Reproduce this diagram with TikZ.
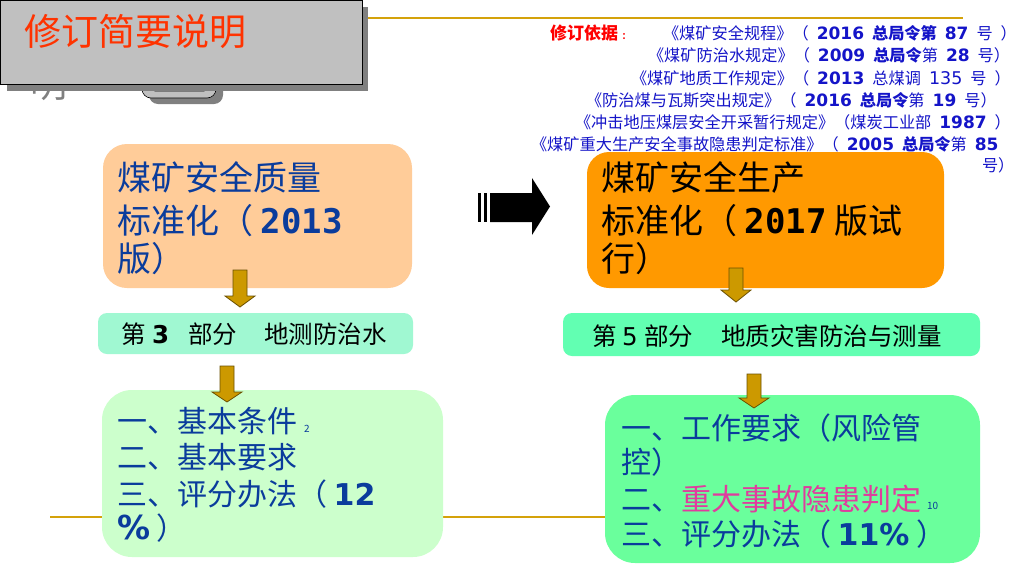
\documentclass[tikz,border=0pt]{standalone}
\usepackage{fontspec}
\setmainfont{Noto Sans CJK SC}
\newfontfamily\reffont[WordSpace=2.2]{Noto Sans CJK SC}
\newfontfamily\dvs{DejaVu Sans}
\newfontfamily\dvm{DejaVu Sans Mono}
\definecolor{gold}{HTML}{CC9900}
\definecolor{goldline}{HTML}{D4A20A}
\definecolor{golddark}{HTML}{6B5000}
\definecolor{titlered}{HTML}{FF3300}
\definecolor{boxgrey}{HTML}{C0C0C0}
\definecolor{shadowgrey}{HTML}{808080}
\definecolor{peach}{HTML}{FFCC99}
\definecolor{orangebox}{HTML}{FF9900}
\definecolor{barone}{HTML}{A0F8D2}
\definecolor{bartwo}{HTML}{62FFB2}
\definecolor{lgreen}{HTML}{CCFFCC}
\definecolor{mgreen}{HTML}{6AFF9C}
\definecolor{dblue}{HTML}{0A3C9C}
\definecolor{refblue}{HTML}{1414C8}
\definecolor{magentatxt}{HTML}{E03C9E}
\newcommand\refnum[1]{{\fontsize{17}{18}\selectfont\dvs\bfseries #1}}
\newcommand\gdarrow[4]{% cx, top, base, tip
  \filldraw[fill=gold, draw=golddark, line width=0.8pt]
   (#1-7,#2) -- (#1+7,#2) -- (#1+7,#3) -- (#1+15,#3) -- (#1,#4)
   -- (#1-15,#3) -- (#1-7,#3) -- cycle;}
\tikzset{
  big/.style={anchor=base west, font=\fontsize{34}{40}\selectfont},
  mid/.style={anchor=base west, font=\fontsize{30}{36}\selectfont},
  bartxt/.style={anchor=base west, font=\fontsize{24.5}{28}\selectfont},
  reftxt/.style={anchor=base west, text=refblue, font=\reffont\fontsize{16.2}{18}\selectfont},
  tiny/.style={anchor=base west, font=\fontsize{10}{12}\selectfont}
}
\begin{document}
\begin{tikzpicture}[x=1pt,y=-1pt, every node/.style={inner sep=0pt, outer sep=0pt}]
\useasboundingbox (0,0) rectangle (1024,576);
\fill[white] (0,0) rectangle (1024,576);

% gold lines
\draw[goldline, line width=1.2pt] (340,18) -- (963,18);
\draw[goldline, line width=1.2pt] (50,517) -- (960,517);

% partially hidden grey glyph
\node[anchor=base west, text=shadowgrey, font=\fontsize{37}{40}\selectfont] (ghost) at (30,97) {明};

% title tab
\fill[shadowgrey, rounded corners=9pt] (149,70) rectangle (223,104);
\filldraw[fill=boxgrey, draw=black, line width=0.6pt, rounded corners=9pt] (142,66) rectangle (216,98);
\draw[black, line width=0.6pt, rounded corners=4pt] (151,70) rectangle (208,91);
% title box
\fill[shadowgrey] (7,7) rectangle (368,91);
\filldraw[fill=boxgrey, draw=black, line width=0.8pt] (0,0) rectangle (362,84);
\node[anchor=base west, text=titlered, font=\fontsize{37}{40}\selectfont] (title) at (24,45) {修订简要说明};

% references
\node[anchor=base west, text=red, font=\fontsize{17}{18}\selectfont\bfseries] (reflabel) at (550,39) {修订依据 {\fontsize{9}{10}\selectfont ：}};
\node[reftxt] (r1) at (663,39) {《煤矿安全规程》（ \refnum{2016} {\bfseries 总局令第} \refnum{87} 号 ）};
\node[reftxt] (r2) at (648,61.5) {《煤矿防治水规定》（ \refnum{2009} {\bfseries 总局令}第 \refnum{28} 号）};
\node[reftxt] (r3) at (631,84) {《煤矿地质工作规定》（ \refnum{2013} 总煤调 {\fontsize{17.5}{18}\selectfont\dvs 135} 号 ）};
\node[reftxt] (r4) at (586,106.5) {《防治煤与瓦斯突出规定》（ \refnum{2016} {\bfseries 总局令}第 \refnum{19} 号）};
\node[reftxt] (r5) at (575,128) {《冲击地压煤层安全开采暂行规定》（煤炭工业部 \refnum{1987} ）};
\node[reftxt] (r6) at (531,150) {《煤矿重大生产安全事故隐患判定标准》（ \refnum{2005} {\bfseries 总局令}第 \refnum{85}};
\node[reftxt] (r7) at (982,171.5) {号）};

% top boxes
\fill[peach, rounded corners=24pt] (103,144) rectangle (412,288);
\fill[orangebox, rounded corners=22pt] (587,152) rectangle (944,288);
\node[big, text=dblue] (p1) at (117,190.5) {煤矿安全质量};
\node[big, text=dblue] (p2) at (117,233) {标准化（ {\dvm\bfseries 2013}};
\node[big, text=dblue] (p3) at (117,271) {版）};
\node[big, text=black] (o1) at (601,190.5) {煤矿安全生产};
\node[big, text=black] (o2) at (601,233) {标准化（ {\dvm\bfseries 2017} 版试};
\node[big, text=black] (o3) at (601,271) {行）};

% big black arrow
\fill[black] (478,193) rectangle (481,222);
\fill[black] (484,193) rectangle (487,222);
\fill[black] (490,193) -- (532,193) -- (532,178) -- (550,206.5) -- (532,235) -- (532,222) -- (490,222) -- cycle;

% bars
\fill[barone, rounded corners=9pt] (98,313) rectangle (413,354);
\fill[bartwo, rounded corners=9pt] (563,313) rectangle (980,356);
\node[bartxt] (b1a) at (121,343) {第};
\node[bartxt] (b1b) at (152,343) {\dvs\bfseries 3};
\node[bartxt] (b1c) at (188,343) {部分};
\node[bartxt] (b1d) at (264,343) {地测防治水};
\node[bartxt] (b2a) at (592,345.5) {第};
\node[bartxt] (b2b) at (622,345.5) {\dvs 5};
\node[bartxt] (b2c) at (644,345.5) {部分};
\node[bartxt] (b2d) at (721,345.5) {地质灾害防治与测量};

% bottom boxes
\fill[lgreen, rounded corners=30pt] (102,390) rectangle (443,557);
\fill[mgreen, rounded corners=30pt] (605,395) rectangle (980,563);
\node[mid, text=dblue] (l1) at (117,432) {一、基本条件};
\node[tiny, text=dblue] (l1n) at (304,432) {2};
\node[mid, text=dblue] (l2) at (117,468) {二、基本要求};
\node[mid, text=dblue] (l3) at (117,505) {三、评分办法（ {\dvs\bfseries 12}};
\node[mid, text=dblue] (l4) at (117,539) {{\fontsize{33}{36}\selectfont\dvs\bfseries \%} ）};
\node[mid, text=dblue] (m1) at (621,439) {一、工作要求（风险管};
\node[mid, text=dblue] (m2) at (621,473) {控）};
\node[mid, text=dblue] (m3) at (621,510) {二、\textcolor{magentatxt}{重大事故隐患判定}};
\node[tiny, text=dblue] (m3n) at (927,509) {10};
\node[mid, text=dblue] (m4) at (621,545) {三、评分办法（ {\dvs\bfseries 11\%} ）};

% gold down arrows
\gdarrow{240}{270}{296}{307}
\gdarrow{227}{366}{392}{402}
\gdarrow{736}{268}{290}{302}
\gdarrow{754}{374}{398}{408}
\end{tikzpicture}
\end{document}
